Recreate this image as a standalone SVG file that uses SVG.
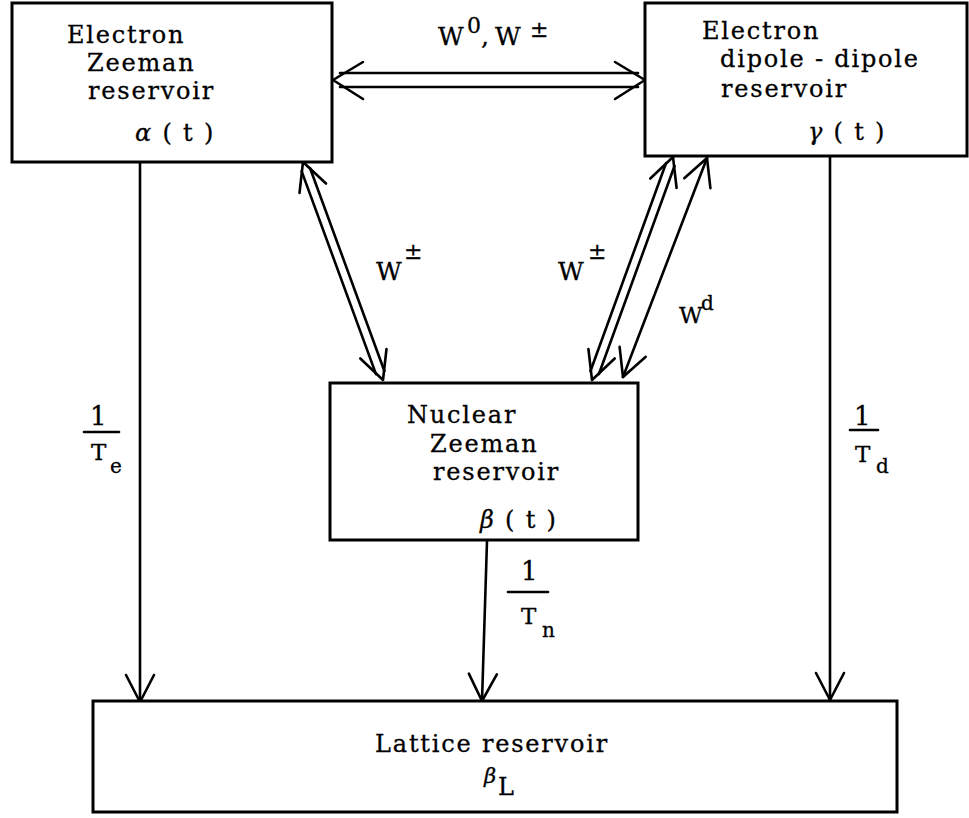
<svg xmlns="http://www.w3.org/2000/svg" width="969" height="818" viewBox="0 0 969 818">
<style>
.box{fill:#fff;stroke:#000;stroke-width:3}
.ln{fill:none;stroke:#000;stroke-width:2.6;stroke-linecap:round;stroke-linejoin:round}
text{font-family:"DejaVu Serif","Liberation Serif",serif;fill:#000;stroke:#000;stroke-width:0.3}
.t{font-size:24px;letter-spacing:1.8px}
.g{font-style:italic}
.w{font-size:25px}
.sup{font-size:22px}
.one{font-size:26px}
.fr{font-size:23px}
.sub{font-size:20px}
</style>
<defs>
<marker id="v" viewBox="-30 -18 32 36" markerWidth="32" markerHeight="36" refX="0" refY="0" orient="auto-start-reverse" markerUnits="userSpaceOnUse">
<path d="M-27,-14 L0,0 L-27,14" fill="none" stroke="#000" stroke-width="2.6" stroke-linecap="round" stroke-linejoin="round"/>
</marker>
</defs>
<rect width="969" height="818" fill="#fff"/>

<g id="connectors">
<line class="ln" x1="340" y1="73" x2="638" y2="73"/>
<line class="ln" x1="340" y1="87" x2="638" y2="87"/>
<path class="ln" d="M363,62 L333,80 L363,99"/>
<path class="ln" d="M615,62 L645,80 L615,99"/>
<line class="ln" x1="310" y1="168" x2="384.4" y2="371"/>
<line class="ln" x1="301.6" y1="171.1" x2="376" y2="374.1"/>
<path class="ln" d="M326,183.5 L303,162 L299.5,193"/>
<path class="ln" d="M386.5,349 L383,380 L360.3,358.5"/>
<line class="ln" x1="674.5" y1="166" x2="598.9" y2="374"/>
<line class="ln" x1="666.1" y1="163" x2="590.5" y2="371"/>
<path class="ln" d="M676.6,188 L673,157 L650.3,178.5"/>
<path class="ln" d="M614.7,358.5 L592,380 L588.4,349"/>
<line class="ln" x1="707" y1="158" x2="623" y2="377" marker-start="url(#v)" marker-end="url(#v)"/>
<line class="ln" x1="140" y1="163" x2="140" y2="702" marker-end="url(#v)"/>
<line class="ln" x1="487" y1="541" x2="482" y2="701" marker-end="url(#v)"/>
<line class="ln" x1="830" y1="157" x2="830" y2="700" marker-end="url(#v)"/>
</g>

<g id="electron-zeeman">
<rect class="box" x="12" y="3" width="320" height="159"/>
<text class="t" x="67" y="43">Electron</text>
<text class="t" x="87" y="71">Zeeman</text>
<text class="t" x="88" y="99">reservoir</text>
<text class="t" x="135" y="141"><tspan class="g">α</tspan> ( t )</text>
</g>

<g id="electron-dipole">
<rect class="box" x="645" y="3" width="322" height="153"/>
<text class="t" x="702" y="39">Electron</text>
<text class="t" x="720" y="67">dipole - dipole</text>
<text class="t" x="721" y="97">reservoir</text>
<text class="t" x="808" y="140"><tspan class="g">γ</tspan> ( t )</text>
</g>

<g id="nuclear-zeeman">
<rect class="box" x="330" y="383" width="308" height="157"/>
<text class="t" x="407" y="423">Nuclear</text>
<text class="t" x="430" y="452">Zeeman</text>
<text class="t" x="433" y="480">reservoir</text>
<text class="t" x="480" y="528"><tspan class="g">β</tspan> ( t )</text>
</g>

<g id="lattice">
<rect class="box" x="93" y="701" width="804" height="111"/>
<text class="t" x="492" y="752" text-anchor="middle">Lattice reservoir</text>
<text x="484" y="783" font-size="21" class="g">β</text>
<text x="498" y="795" font-size="24">L</text>
</g>

<g id="labels">
<text class="w" x="438" y="45">W</text>
<text class="sup" x="467" y="33">0</text>
<text class="w" x="481" y="45">,</text>
<text class="w" x="495" y="45">W</text>
<text class="sup" x="530" y="37">±</text>

<text class="w" x="376" y="280">W</text>
<text class="sup" x="404" y="259">±</text>
<text class="w" x="558" y="280">W</text>
<text class="sup" x="588" y="259">±</text>
<text x="679" y="323" font-size="23">W</text>
<text class="sub" x="701" y="310">d</text>

<text class="one" x="90" y="425">1</text>
<line class="ln" x1="84" y1="432" x2="119" y2="432"/>
<text class="fr" x="91" y="460">T</text>
<text class="sub" x="110" y="473">e</text>

<text class="one" x="854" y="425">1</text>
<line class="ln" x1="850" y1="430" x2="878" y2="430"/>
<text class="fr" x="855" y="462">T</text>
<text class="sub" x="876" y="473">d</text>

<text class="one" x="521" y="580">1</text>
<line class="ln" x1="508" y1="592" x2="548" y2="592"/>
<text class="fr" x="521" y="624">T</text>
<text class="sub" x="542" y="637">n</text>
</g>
</svg>
